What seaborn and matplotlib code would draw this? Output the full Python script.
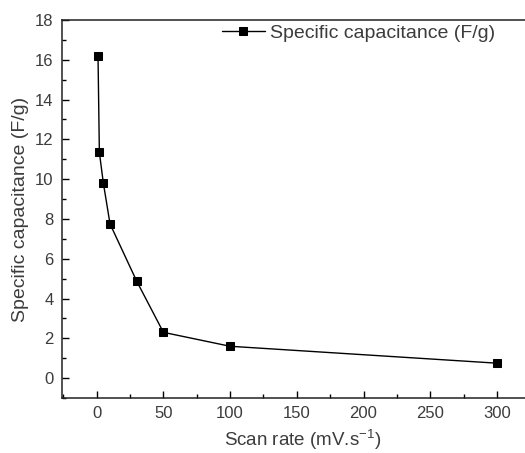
import matplotlib
matplotlib.use("Agg")
import matplotlib.pyplot as plt
import seaborn as sns
import pandas as pd
from matplotlib.ticker import MultipleLocator

# data
scan_rate = [1, 2, 5, 10, 30, 50, 100, 300]
capacitance = [16.2, 11.35, 9.8, 7.75, 4.87, 2.3, 1.6, 0.75]

df = pd.DataFrame({"scan_rate": scan_rate, "capacitance": capacitance})

sns.set_style("ticks")
plt.rcParams['font.family'] = ['Liberation Sans', 'DejaVu Sans']
text_col = "#3c3c3c"

fig = plt.figure(figsize=(5.25, 4.53), dpi=100)
# right edge of the frame is cut off in the reference, so let the axes run past the figure
ax_w = 495
ax = fig.add_axes([62/525, 55/453, ax_w/525, 378/453])

sns.lineplot(data=df, x="scan_rate", y="capacitance", ax=ax, color="black",
             marker="s", markersize=6, markeredgecolor="black", linewidth=1,
             label="Specific capacitance (F/g)")

ax.set_xlim(-26, 345)
ax.set_ylim(-1, 18)
ax.xaxis.set_major_locator(MultipleLocator(50))
ax.xaxis.set_minor_locator(MultipleLocator(25))
ax.yaxis.set_major_locator(MultipleLocator(2))
ax.yaxis.set_minor_locator(MultipleLocator(1))
ax.tick_params(which="both", direction="in", colors="black", labelcolor=text_col,
               labelsize=12, width=1)
ax.tick_params(which="major", length=5, pad=6)
ax.tick_params(which="minor", length=3)
for s in ax.spines.values():
    s.set_linewidth(1.1)
    s.set_color("#222222")
ax.spines["right"].set_visible(False)

ax.set_xlabel("Scan rate (mV.s$^{\\mathregular{-1}}$)", fontsize=13.5, color=text_col)
ax.xaxis.set_label_coords((303 - 62) / ax_w, -0.078)
ax.set_ylabel("Specific capacitance (F/g)", fontsize=14, color=text_col, labelpad=4)

leg = ax.legend(loc="upper left", bbox_to_anchor=(152/ax_w, 1.01), frameon=False,
                fontsize=14, handlelength=2.2, borderaxespad=0.0, handletextpad=0.3,
                markerscale=0.85)
for t in leg.get_texts():
    t.set_color(text_col)

fig.savefig("out.png", dpi=100)
